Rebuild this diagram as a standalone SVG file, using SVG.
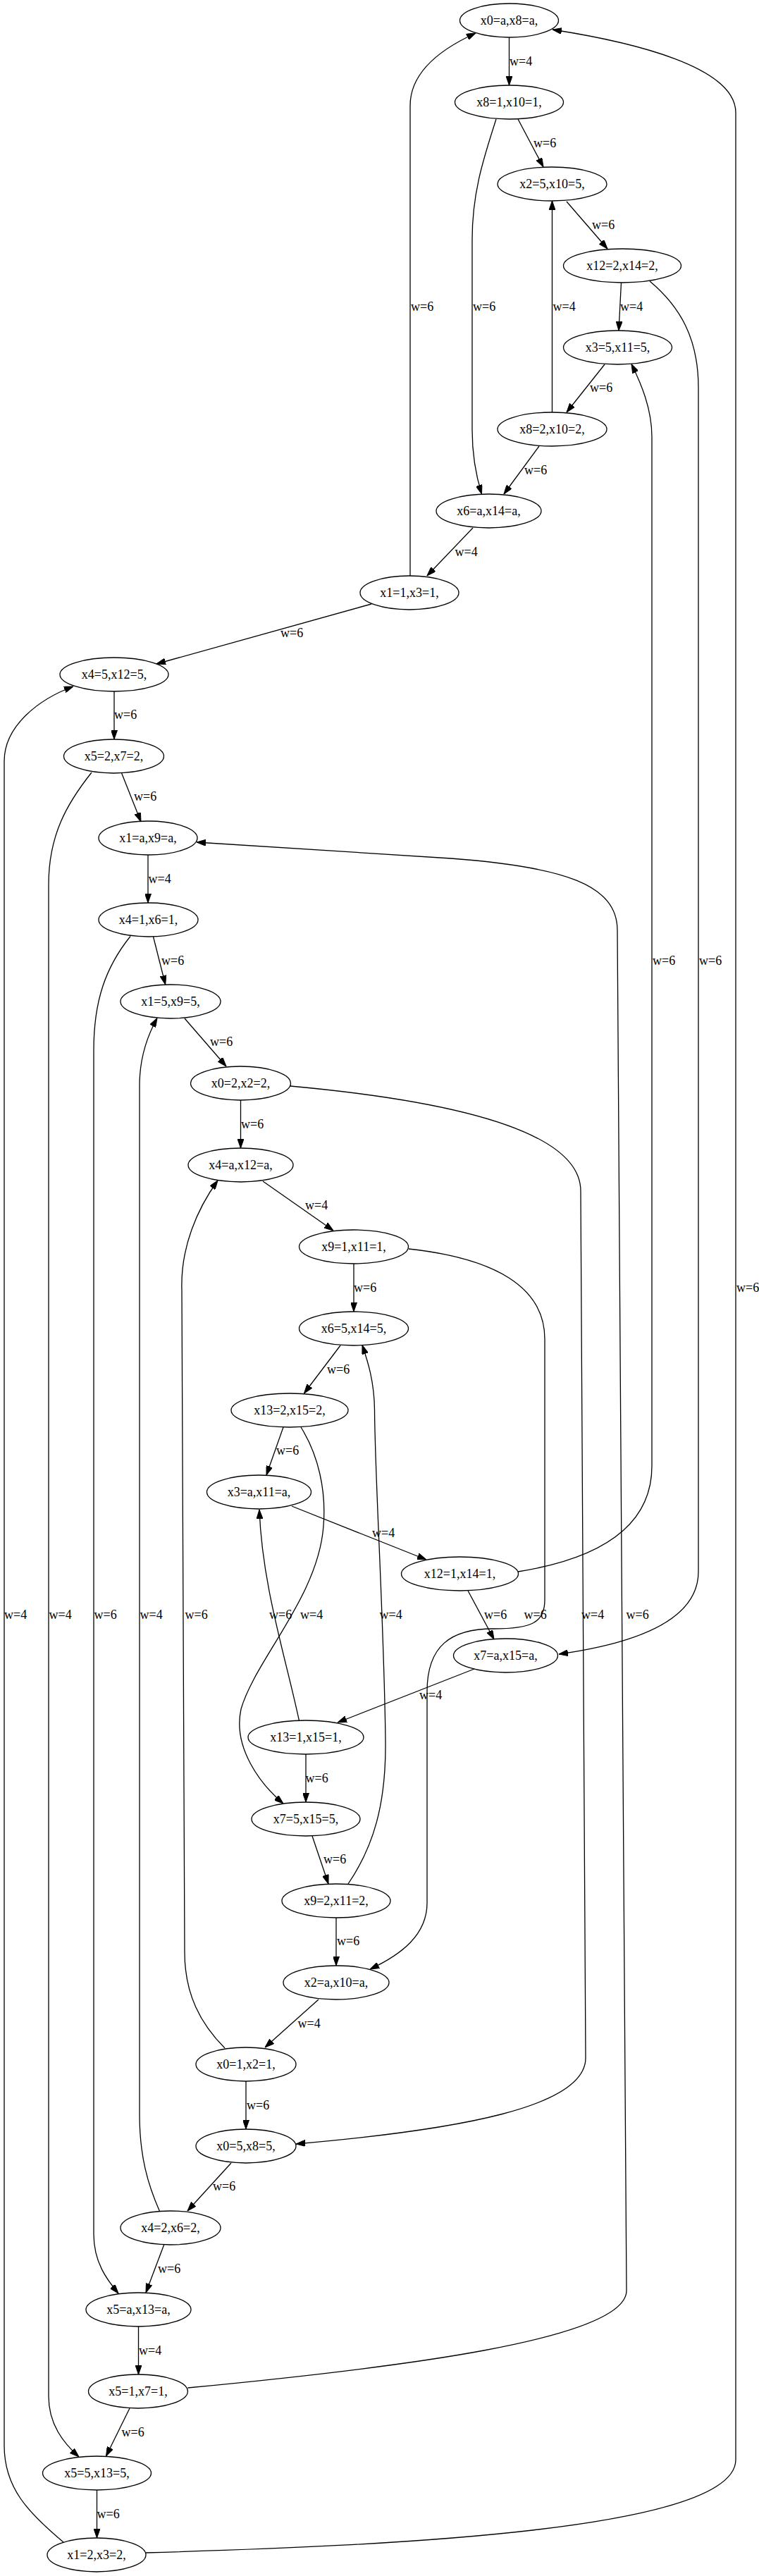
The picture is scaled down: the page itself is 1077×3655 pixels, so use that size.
<svg xmlns="http://www.w3.org/2000/svg" width="1077" height="3655" viewBox="0 0 1077 3655">
<style>
.n ellipse{fill:none;stroke:#000;stroke-width:1.3}
text{font-family:"Liberation Serif","Times New Roman",serif;font-size:18px;fill:#000}
.n text{text-anchor:middle}
.e path{fill:none;stroke:#000;stroke-width:1.3;marker-end:url(#ah)}
.lb text{text-anchor:start}
</style>
<defs>
<marker id="ah" markerUnits="userSpaceOnUse" markerWidth="13" markerHeight="9" viewBox="0 0 13 9" refX="13" refY="4.5" orient="auto">
<path d="M0,0 L13,4.5 L0,9 z" fill="#000" stroke="#000" stroke-width="1"/>
</marker>
</defs>
<rect width="1077" height="3655" fill="#fff"/>
<g id="edges" class="e">
<path d="M722.5,53 L722.5,121"/>
<path d="M735,169 L771,237"/>
<path d="M804,286 L862,353"/>
<path d="M881.5,401 L878,469"/>
<path d="M858,517 L804,585"/>
<path d="M765,633 L715,701"/>
<path d="M671,749 L606,817"/>
<path d="M527,857 L222,942"/>
<path d="M162,981 L162,1049"/>
<path d="M172.6,1097 L200,1166"/>
<path d="M210,1213 L210,1281"/>
<path d="M217.5,1329 L234.7,1397"/>
<path d="M262,1445 L321,1513"/>
<path d="M341.5,1561 L341.5,1629"/>
<path d="M373,1676 L473,1746"/>
<path d="M502,1793 L502,1861"/>
<path d="M483,1909 L431.5,1977"/>
<path d="M402,2025 L378,2093"/>
<path d="M414,2137 L605,2213"/>
<path d="M664,2257 L701,2326"/>
<path d="M673,2368 L479,2444"/>
<path d="M434,2489 L434,2557"/>
<path d="M443,2605 L466,2673"/>
<path d="M477,2721 L477,2789"/>
<path d="M452,2837 L376,2905"/>
<path d="M349,2953 L349,3021"/>
<path d="M328,3069 L266,3137"/>
<path d="M232.7,3185 L207,3253"/>
<path d="M196.5,3301 L196.5,3369"/>
<path d="M184,3417 L150.5,3485"/>
<path d="M137.5,3533 L137.5,3601"/>
<path d="M582,817 V150 C582,105 620,72 675,47"/>
<path d="M704,169 C688,220 670,270 670,340 V610 C670,650 677,680 683.5,701"/>
<path d="M783.5,585 L783.5,285"/>
<path d="M735,2230 C860,2210 925,2160 925,2080 V620 C925,580 910,545 896,516.5"/>
<path d="M922,399 C965,435 991,480 991,550 V2230 C991,2300 900,2332 793,2347"/>
<path d="M207,3622 C560,3612 1044,3590 1044,3490 V160 C1044,95 900,60 784,42"/>
<path d="M90,3607 C40,3565 6,3530 6,3470 V1080 C6,1030 55,992 104,974"/>
<path d="M130,1096 C95,1140 69,1185 69,1255 V3400 C69,3440 90,3466 112,3486"/>
<path d="M185,1328.5 C150,1372 133,1420 133,1490 V3170 C133,3210 152,3235 168,3254"/>
<path d="M226.5,3137.5 C210,3100 198,3060 198,3000 V1540 C198,1500 210,1468 223,1444.5"/>
<path d="M319,2906 C285,2872 262,2830 262,2770 L258,1830 C256,1770 280,1715 309,1675"/>
<path d="M424.6,2442 C405,2350 372,2250 368,2142"/>
<path d="M427,2025 C452,2065 463,2115 459,2165 C452,2265 362,2355 342,2425 C330,2480 370,2532 402,2559"/>
<path d="M494,2673 C530,2620 548,2560 547,2470 C545,2300 532,2100 531.5,2000 C531,1960 522,1932 514,1908.5"/>
<path d="M412,1541 C620,1560 824,1600 824,1690 L831,2920 C831,2990 650,3022 420,3042"/>
<path d="M580,1772 C700,1785 773,1825 773,1900 V2270 C773,2302 755,2311 700,2311 C640,2311 606,2335 606,2400 V2700 C606,2745 570,2773 525,2794"/>
<path d="M266.5,3388 C560,3360 889,3320 889,3250 L876,1320 C876,1255 800,1230 640,1218 C520,1210 400,1202 279,1195"/>
</g>
<g id="edge-labels" class="lb">
<text x="723" y="93">w=4</text>
<text x="757" y="209">w=6</text>
<text x="840" y="325">w=6</text>
<text x="880" y="441">w=4</text>
<text x="837" y="556">w=6</text>
<text x="744" y="673">w=6</text>
<text x="645.5" y="789">w=4</text>
<text x="398" y="904">w=6</text>
<text x="162" y="1020">w=6</text>
<text x="190" y="1136">w=6</text>
<text x="210.5" y="1253">w=4</text>
<text x="229" y="1369">w=6</text>
<text x="298" y="1484">w=6</text>
<text x="342" y="1601">w=6</text>
<text x="433" y="1716">w=4</text>
<text x="502" y="1833">w=6</text>
<text x="464" y="1949">w=6</text>
<text x="392" y="2064">w=6</text>
<text x="528" y="2181">w=4</text>
<text x="687" y="2297">w=6</text>
<text x="595" y="2411">w=4</text>
<text x="433.6" y="2529">w=6</text>
<text x="459" y="2644">w=6</text>
<text x="478" y="2760">w=6</text>
<text x="422.5" y="2877">w=4</text>
<text x="350" y="2993">w=6</text>
<text x="302" y="3108">w=6</text>
<text x="224" y="3225">w=6</text>
<text x="197" y="3341">w=4</text>
<text x="172.6" y="3457">w=6</text>
<text x="137.5" y="3573">w=6</text>
<text x="583" y="441">w=6</text>
<text x="671" y="441">w=6</text>
<text x="784.5" y="441">w=4</text>
<text x="926" y="1369">w=6</text>
<text x="992" y="1369">w=6</text>
<text x="1045" y="1833">w=6</text>
<text x="6" y="2297">w=4</text>
<text x="69.5" y="2297">w=4</text>
<text x="133.5" y="2297">w=6</text>
<text x="198.5" y="2297">w=4</text>
<text x="262.5" y="2297">w=6</text>
<text x="382" y="2297">w=6</text>
<text x="426" y="2297">w=4</text>
<text x="538.5" y="2297">w=4</text>
<text x="743.6" y="2297">w=6</text>
<text x="825" y="2297">w=4</text>
<text x="888.6" y="2297">w=6</text>
</g>
<g id="n1" class="n"><ellipse cx="722.5" cy="29" rx="70" ry="24"/><text x="722.5" y="35">x0=a,x8=a,</text></g>
<g id="n2" class="n"><ellipse cx="722.5" cy="145" rx="77" ry="24"/><text x="722.5" y="151">x8=1,x10=1,</text></g>
<g id="n3" class="n"><ellipse cx="783.5" cy="261" rx="77.5" ry="24"/><text x="783.5" y="267">x2=5,x10=5,</text></g>
<g id="n4" class="n"><ellipse cx="883" cy="377" rx="83.5" ry="24"/><text x="883" y="383">x12=2,x14=2,</text></g>
<g id="n5" class="n"><ellipse cx="876.5" cy="493" rx="77" ry="24"/><text x="876.5" y="499">x3=5,x11=5,</text></g>
<g id="n6" class="n"><ellipse cx="783.5" cy="609" rx="77.5" ry="24"/><text x="783.5" y="615">x8=2,x10=2,</text></g>
<g id="n7" class="n"><ellipse cx="693.5" cy="725" rx="74.5" ry="24"/><text x="693.5" y="731">x6=a,x14=a,</text></g>
<g id="n8" class="n"><ellipse cx="581" cy="841" rx="70" ry="24"/><text x="581" y="847">x1=1,x3=1,</text></g>
<g id="n9" class="n"><ellipse cx="162" cy="957" rx="77" ry="24"/><text x="162" y="963">x4=5,x12=5,</text></g>
<g id="n10" class="n"><ellipse cx="161.5" cy="1073" rx="71" ry="24"/><text x="161.5" y="1079">x5=2,x7=2,</text></g>
<g id="n11" class="n"><ellipse cx="210" cy="1189" rx="70" ry="24"/><text x="210" y="1195">x1=a,x9=a,</text></g>
<g id="n12" class="n"><ellipse cx="210.5" cy="1305" rx="70.5" ry="24"/><text x="210.5" y="1311">x4=1,x6=1,</text></g>
<g id="n13" class="n"><ellipse cx="242" cy="1421" rx="71" ry="24"/><text x="242" y="1427">x1=5,x9=5,</text></g>
<g id="n14" class="n"><ellipse cx="341.5" cy="1537" rx="71" ry="24"/><text x="341.5" y="1543">x0=2,x2=2,</text></g>
<g id="n15" class="n"><ellipse cx="341.5" cy="1653" rx="74.5" ry="24"/><text x="341.5" y="1659">x4=a,x12=a,</text></g>
<g id="n16" class="n"><ellipse cx="502" cy="1769" rx="77.5" ry="24"/><text x="502" y="1775">x9=1,x11=1,</text></g>
<g id="n17" class="n"><ellipse cx="502" cy="1885" rx="77.5" ry="24"/><text x="502" y="1891">x6=5,x14=5,</text></g>
<g id="n18" class="n"><ellipse cx="411" cy="2001" rx="83" ry="24"/><text x="411" y="2007">x13=2,x15=2,</text></g>
<g id="n19" class="n"><ellipse cx="367.5" cy="2117" rx="74" ry="24"/><text x="367.5" y="2123">x3=a,x11=a,</text></g>
<g id="n20" class="n"><ellipse cx="652.5" cy="2233" rx="83" ry="24"/><text x="652.5" y="2239">x12=1,x14=1,</text></g>
<g id="n21" class="n"><ellipse cx="717.5" cy="2349" rx="74" ry="24"/><text x="717.5" y="2355">x7=a,x15=a,</text></g>
<g id="n22" class="n"><ellipse cx="434" cy="2465" rx="82" ry="24"/><text x="434" y="2471">x13=1,x15=1,</text></g>
<g id="n23" class="n"><ellipse cx="434" cy="2581" rx="77" ry="24"/><text x="434" y="2587">x7=5,x15=5,</text></g>
<g id="n24" class="n"><ellipse cx="477" cy="2697" rx="77" ry="24"/><text x="477" y="2703">x9=2,x11=2,</text></g>
<g id="n25" class="n"><ellipse cx="477" cy="2813" rx="75" ry="24"/><text x="477" y="2819">x2=a,x10=a,</text></g>
<g id="n26" class="n"><ellipse cx="349" cy="2929" rx="71" ry="24"/><text x="349" y="2935">x0=1,x2=1,</text></g>
<g id="n27" class="n"><ellipse cx="349" cy="3045" rx="71" ry="24"/><text x="349" y="3051">x0=5,x8=5,</text></g>
<g id="n28" class="n"><ellipse cx="242" cy="3161" rx="71" ry="24"/><text x="242" y="3167">x4=2,x6=2,</text></g>
<g id="n29" class="n"><ellipse cx="196.5" cy="3277" rx="74.5" ry="24"/><text x="196.5" y="3283">x5=a,x13=a,</text></g>
<g id="n30" class="n"><ellipse cx="196" cy="3393" rx="70.5" ry="24"/><text x="196" y="3399">x5=1,x7=1,</text></g>
<g id="n31" class="n"><ellipse cx="137.5" cy="3509" rx="77" ry="24"/><text x="137.5" y="3515">x5=5,x13=5,</text></g>
<g id="n32" class="n"><ellipse cx="137" cy="3625" rx="70" ry="24"/><text x="137" y="3631">x1=2,x3=2,</text></g>
</svg>
